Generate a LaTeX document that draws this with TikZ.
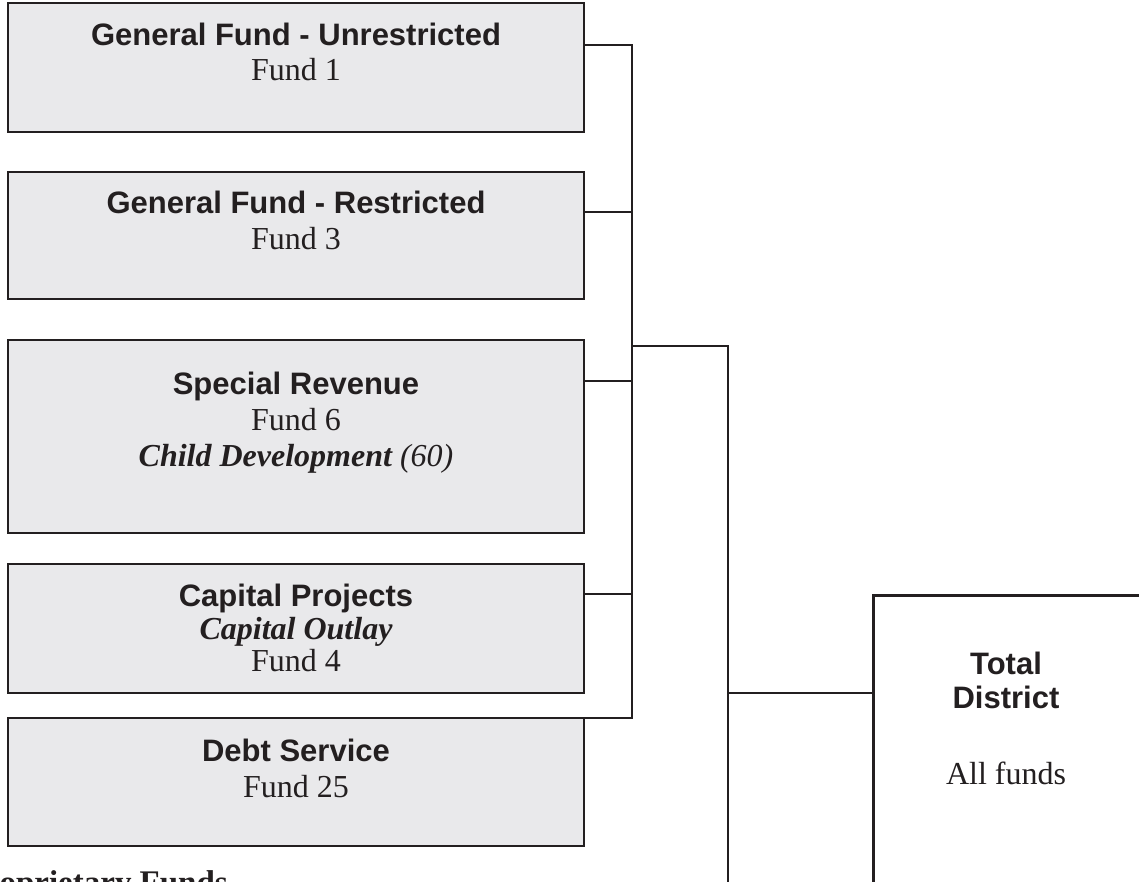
\documentclass[tikz,border=0pt]{standalone}
\usepackage{fontspec}
\setmainfont{Liberation Serif}
\setsansfont{Liberation Sans}
\definecolor{ink}{HTML}{231F20}
\definecolor{boxfill}{HTML}{E9E9EB}
\begin{document}
\begin{tikzpicture}[x=1pt,y=-1pt,
  fundbox/.style={draw=ink, line width=2.5pt, fill=boxfill, anchor=north west, inner sep=0pt, outer sep=0pt},
  head/.style={font=\sffamily\bfseries\fontsize{31}{35}\selectfont, text=ink, inner sep=0pt, anchor=base},
  sub/.style={font=\fontsize{32}{36}\selectfont, text=ink, inner sep=0pt, anchor=base},
  subbi/.style={font=\bfseries\itshape\fontsize{32}{36}\selectfont, text=ink, inner sep=0pt, anchor=base},
  wire/.style={draw=ink, line width=2pt}]
\useasboundingbox (0,0) rectangle (1139,882);
\clip (0,0) rectangle (1139,882);
% boxes
\node[fundbox, minimum width=576pt, minimum height=129pt] (b1) at (8,3) {};
\node[fundbox, minimum width=576pt, minimum height=127pt] (b2) at (8,172) {};
\node[fundbox, minimum width=576pt, minimum height=193pt] (b3) at (8,340) {};
\node[fundbox, minimum width=576pt, minimum height=129pt] (b4) at (8,564) {};
\node[fundbox, minimum width=576pt, minimum height=128pt] (b5) at (8,718) {};
\node[draw=ink, line width=2.5pt, fill=white, anchor=north west, inner sep=0pt, minimum width=400pt, minimum height=400pt] (td) at (872,594) {};
% texts
\node[head] (t1) at (296,46) {General Fund - Unrestricted};
\node[sub] (f1) at (296,81) {Fund 1};
\node[head] (t2) at (296,214) {General Fund - Restricted};
\node[sub] (f2) at (296,250) {Fund 3};
\node[head] (t3) at (296,394) {Special Revenue};
\node[sub] (f3) at (296,430) {Fund 6};
\node[subbi] (c3) at (296,466) {Child Development \textmd{(60)}};
\node[head] (t4) at (296,606) {Capital Projects};
\node[subbi] (c4) at (296,639) {Capital Outlay};
\node[sub] (f4) at (296,671) {Fund 4};
\node[head] (t5) at (296,761) {Debt Service};
\node[sub] (f5) at (296,797) {Fund 25};
\node[head] (tt) at (1006,674) {Total};
\node[head] (td2) at (1006,708) {District};
\node[sub] (af) at (1006,784) {All funds};
\node[font=\bfseries\fontsize{33}{37}\selectfont, text=ink, inner sep=0pt, anchor=base east] (pf) at (228,893) {Proprietary Funds};
% connectors
\coordinate (j1) at (632,45);
\coordinate (j2) at (632,212);
\coordinate (j3) at (632,381);
\coordinate (j4) at (632,594);
\coordinate (j5) at (632,718);
\coordinate (k1) at (632,346);
\coordinate (k2) at (728,346);
\coordinate (k3) at (728,890);
\coordinate (k4) at (728,693);
\draw[wire] (b1.east |- j1) -- (j1) -- (j5) -- (b5.north east);
\draw[wire] (b2.east |- j2) -- (j2);
\draw[wire] (b3.east |- j3) -- (j3);
\draw[wire] (b4.east |- j4) -- (j4);
\draw[wire] (k1) -- (k2) -- (k3);
\draw[wire] (k4) -- (td.west |- k4);
\end{tikzpicture}
\end{document}
